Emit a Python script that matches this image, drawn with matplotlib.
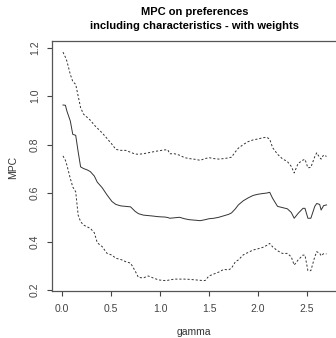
import matplotlib
matplotlib.use("Agg")
import matplotlib.pyplot as plt

gamma = [0.01, 0.035, 0.05, 0.085, 0.11, 0.14, 0.165, 0.19, 0.22, 0.26, 0.29, 0.33, 0.36,
         0.41, 0.46, 0.51, 0.55, 0.60, 0.65, 0.70, 0.745, 0.78, 0.83, 0.88, 0.93, 0.97,
         1.00, 1.05, 1.08, 1.10, 1.15, 1.20, 1.25, 1.30, 1.36, 1.41, 1.46, 1.50, 1.55,
         1.60, 1.65, 1.70, 1.73, 1.77, 1.80, 1.85, 1.90, 1.95, 2.00, 2.05, 2.09, 2.12,
         2.15, 2.20, 2.25, 2.30, 2.34, 2.37, 2.41, 2.46, 2.48, 2.51, 2.54, 2.58, 2.60,
         2.63, 2.645, 2.67, 2.70]

upper = [1.181, 1.16, 1.144, 1.089, 1.06, 1.048, 1.0, 0.952, 0.925, 0.911, 0.90, 0.88, 0.868,
         0.848, 0.825, 0.801, 0.78, 0.776, 0.776, 0.768, 0.761, 0.76, 0.762, 0.766, 0.77, 0.773,
         0.775, 0.778, 0.778, 0.762, 0.762, 0.756, 0.746, 0.742, 0.739, 0.735, 0.742, 0.746, 0.742,
         0.74, 0.742, 0.745, 0.748, 0.77, 0.785, 0.80, 0.812, 0.819, 0.823, 0.828, 0.83, 0.822,
         0.787, 0.76, 0.741, 0.73, 0.71, 0.683, 0.722, 0.736, 0.739, 0.704, 0.706, 0.75, 0.766,
         0.746, 0.74, 0.757, 0.751]

mpc = [0.963, 0.962, 0.938, 0.897, 0.842, 0.838, 0.77, 0.708, 0.701, 0.695, 0.688, 0.67, 0.645,
       0.622, 0.592, 0.565, 0.553, 0.547, 0.545, 0.543, 0.525, 0.515, 0.509, 0.507, 0.505, 0.503,
       0.502, 0.501, 0.499, 0.496, 0.498, 0.50, 0.494, 0.49, 0.488, 0.486, 0.49, 0.494, 0.496,
       0.50, 0.506, 0.512, 0.518, 0.535, 0.551, 0.568, 0.58, 0.59, 0.595, 0.598, 0.60, 0.603,
       0.578, 0.545, 0.54, 0.535, 0.52, 0.496, 0.516, 0.537, 0.537, 0.496, 0.496, 0.545, 0.557,
       0.553, 0.53, 0.548, 0.551]

lower = [0.753, 0.735, 0.715, 0.66, 0.625, 0.605, 0.509, 0.482, 0.468, 0.46, 0.454, 0.436, 0.395,
         0.379, 0.351, 0.344, 0.331, 0.326, 0.317, 0.311, 0.28, 0.252, 0.25, 0.258, 0.25, 0.244,
         0.241, 0.239, 0.24, 0.242, 0.245, 0.245, 0.245, 0.244, 0.242, 0.24, 0.239, 0.258, 0.266,
         0.274, 0.285, 0.283, 0.29, 0.317, 0.324, 0.345, 0.355, 0.365, 0.37, 0.376, 0.384, 0.392,
         0.378, 0.362, 0.351, 0.351, 0.337, 0.303, 0.324, 0.344, 0.344, 0.28, 0.28, 0.337, 0.358,
         0.352, 0.341, 0.35, 0.349]

xticks = [0.0, 0.5, 1.0, 1.5, 2.0, 2.5]
yticks = [0.2, 0.4, 0.6, 0.8, 1.0, 1.2]

plt.rcParams['font.family'] = ['Liberation Sans', 'DejaVu Sans']

fig = plt.figure(figsize=(3.36, 3.38), dpi=100)
ax = fig.add_axes([52/336, 1 - 291/338, (337.5 - 52)/336, (291 - 41)/338])

col = '#333333'
ax.plot(gamma, mpc, color=col, lw=0.7, ls='-')
ax.plot(gamma, upper, color=col, lw=0.7, ls=(0, (2.2, 2.0)))
ax.plot(gamma, lower, color=col, lw=0.7, ls=(0, (2.2, 2.0)))

ax.set_xlim(-0.102, 2.812)
ax.set_ylim(0.196, 1.227)
ax.set_xticks(xticks)
ax.set_xticklabels([f"{t:.1f}" for t in xticks])
ax.set_yticks(yticks)
ax.set_yticklabels([f"{t:.1f}" for t in yticks], rotation=90, va='center')
ax.tick_params(axis='both', length=3.6, width=0.8, labelsize=7.5, colors='#444444')
ax.tick_params(axis='x', pad=6)
ax.tick_params(axis='y', pad=5)
for s in ax.spines.values():
    s.set_linewidth(0.9)
    s.set_color('#555555')

fig.text(194/336, 1 - 332/338, 'gamma', ha='center', va='center', fontsize=7.5,
         color='#333333')
fig.text(13/336, 1 - 167/338, 'MPC', ha='center', va='center', rotation=90,
         fontsize=7.5, color='#333333')
fig.text(0.58, 1 - 12/338, 'MPC on preferences', ha='center', va='center',
         fontsize=8, fontweight='bold')
fig.text(0.58, 1 - 26/338, 'including characteristics - with weights', ha='center',
         va='center', fontsize=8, fontweight='bold')

fig.savefig('out.png', dpi=100)
